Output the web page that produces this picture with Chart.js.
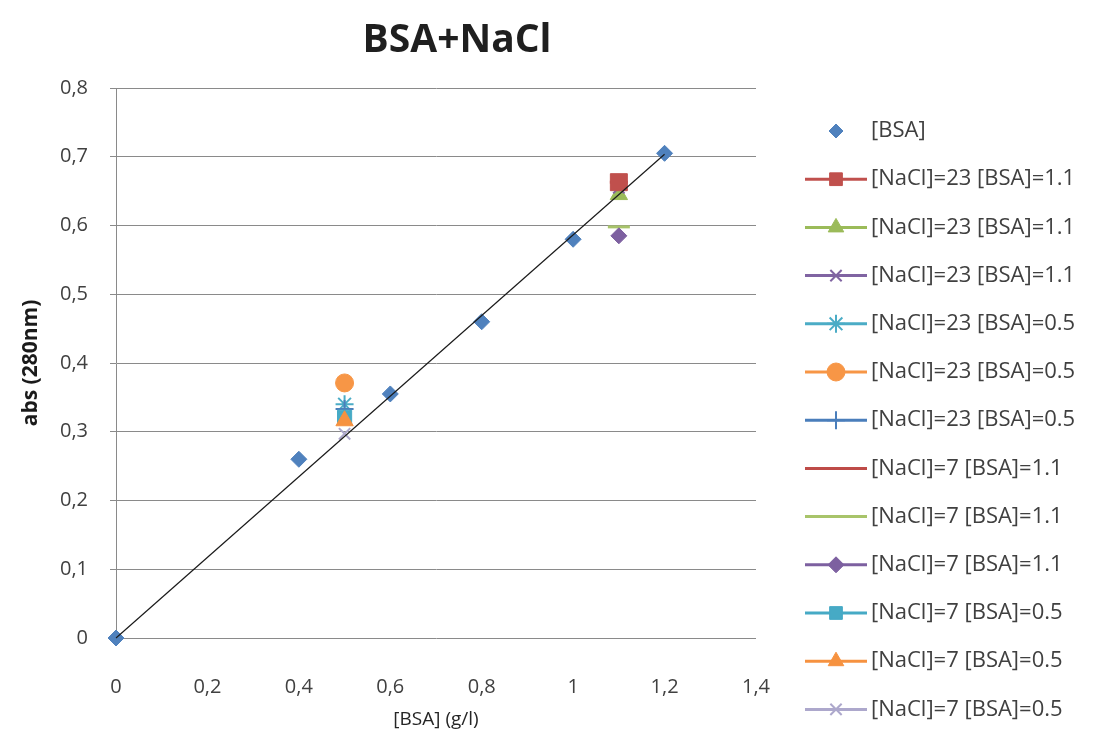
<!DOCTYPE html>
<html>
<head>
<meta charset="utf-8">
<script src="https://cdn.jsdelivr.net/npm/chart.js@4/dist/chart.umd.min.js"></script>
<style>
  html, body { margin: 0; padding: 0; background: #ffffff; }
  #wrap { width: 1101px; height: 751px; }
</style>
</head>
<body>
<div id="wrap"><canvas id="chart" width="1101" height="751"></canvas></div>
<script>
        const bsaX = [0, 0.4, 0.6, 0.8, 1, 1.2];
        const bsaY = [0, 0.26, 0.355, 0.46, 0.58, 0.705];

        const mixNames = [
            '[NaCl]=23 [BSA]=1.1', '[NaCl]=23 [BSA]=1.1', '[NaCl]=23 [BSA]=1.1',
            '[NaCl]=23 [BSA]=0.5', '[NaCl]=23 [BSA]=0.5', '[NaCl]=23 [BSA]=0.5',
            '[NaCl]=7 [BSA]=1.1', '[NaCl]=7 [BSA]=1.1', '[NaCl]=7 [BSA]=1.1',
            '[NaCl]=7 [BSA]=0.5', '[NaCl]=7 [BSA]=0.5', '[NaCl]=7 [BSA]=0.5'
        ];
        const mixX = [1.1, 1.1, 1.1, 0.5, 0.5, 0.5, 1.1, 1.1, 1.1, 0.5, 0.5, 0.5];
        const mixY = [0.663, 0.645, 0.655, 0.34, 0.371, 0.333, 0.663, 0.598, 0.585, 0.321, 0.316, 0.297];

        const xTicks = [0, 0.2, 0.4, 0.6, 0.8, 1, 1.2, 1.4];
        const yTicks = [0, 0.1, 0.2, 0.3, 0.4, 0.5, 0.6, 0.7, 0.8];

        // Darstellung
        const bsaColor = '#4F81BD';
        const mixColors = ['#C0504D', '#9BBB59', '#8064A2', '#4BACC6', '#F79646', '#4A7EBB',
                           '#BE4B48', '#A8C46A', '#7D60A0', '#46AAC5', '#F69240', '#ADA8CC'];
        const mixStyles = ['rect', 'triangle', 'crossRot', 'star', 'circle', 'cross',
                           'line', 'line', 'rectRot', 'rect', 'triangle', 'crossRot'];
        const mixRadius = [12, 10, 8, 9, 9, 9, 9, 11, 8, 10, 10, 8];

        const FONT = "'Open Sans', 'DejaVu Sans', sans-serif";

        function fmt(v) {
            const r = Math.round(v * 10) / 10;
            return String(r).replace('.', ',');
        }

        // lineare Trendlinie durch den Ursprung
        let sxy = 0, sxx = 0;
        bsaX.forEach((x, i) => { sxy += x * bsaY[i]; sxx += x * x; });
        const slope = sxy / sxx;
        const xMin = Math.min(...bsaX), xMax = Math.max(...bsaX);
        const trend = [{ x: xMin, y: slope * xMin }, { x: xMax, y: slope * xMax }];

        const datasets = [];
        datasets.push({
            label: 'trend',
            data: trend,
            showLine: true,
            borderColor: '#1a1a1a',
            borderWidth: 1.2,
            pointRadius: 0,
            clip: false,
            order: 0
        });
        datasets.push({
            label: '[BSA]',
            data: bsaX.map((x, i) => ({ x: x, y: bsaY[i] })),
            pointStyle: 'rectRot',
            pointRadius: 8,
            backgroundColor: bsaColor,
            borderColor: bsaColor,
            borderWidth: 1,
            clip: false,
            order: 100
        });
        mixNames.forEach((name, i) => {
            const thin = ['cross', 'crossRot', 'star', 'line'].includes(mixStyles[i]);
            datasets.push({
                label: name,
                data: [{ x: mixX[i], y: mixY[i] }],
                pointStyle: mixStyles[i],
                pointRadius: mixRadius[i],
                backgroundColor: mixColors[i],
                borderColor: mixColors[i],
                borderWidth: thin ? (mixStyles[i] === 'line' ? 3 : 2) : 1,
                clip: false,
                // Quadrat liegt im Original über dem Dreieck
                order: i === 0 ? 1 : 99 - i
            });
        });

        function drawMarker(ctx, style, r, color, bw, x, y) {
            ctx.save();
            ctx.fillStyle = color;
            ctx.strokeStyle = color;
            ctx.lineWidth = bw;
            Chart.helpers.drawPoint(ctx, { pointStyle: style, radius: r, borderWidth: bw, rotation: 0 }, x, y);
            ctx.restore();
        }

        // Titel und Legende im Excel-Stil
        const excelDecor = {
            id: 'excelDecor',
            afterDraw(chart) {
                const ctx = chart.ctx;
                const area = chart.chartArea;
                ctx.save();
                ctx.fillStyle = '#1f1f1f';
                ctx.font = 'bold 39px ' + FONT;
                ctx.textAlign = 'center';
                ctx.textBaseline = 'middle';
                ctx.fillText('BSA+NaCl', (area.left + area.right) / 2 + 21, 41);

                const rowTop = 131, rowGap = 48.2;
                const lineX0 = 805, lineX1 = 867, markX = 836, textX = 871;
                ctx.font = '22px ' + FONT;
                ctx.textAlign = 'left';
                ctx.fillStyle = '#404040';
                ctx.fillText('[BSA]', textX, rowTop);
                drawMarker(ctx, 'rectRot', 7, bsaColor, 1, markX, rowTop);

                mixNames.forEach((name, i) => {
                    const y = rowTop + rowGap * (i + 1);
                    ctx.strokeStyle = mixColors[i];
                    ctx.lineWidth = 3;
                    ctx.beginPath();
                    ctx.moveTo(lineX0, y);
                    ctx.lineTo(lineX1, y);
                    ctx.stroke();
                    const thin = ['cross', 'crossRot', 'star', 'line'].includes(mixStyles[i]);
                    drawMarker(ctx, mixStyles[i], Math.min(mixRadius[i], 9), mixColors[i], thin ? 2 : 1, markX, y);
                    ctx.fillStyle = '#404040';
                    ctx.fillText(name, textX, y);
                });
                ctx.restore();
            }
        };

        new Chart(document.getElementById('chart').getContext('2d'), {
            type: 'scatter',
            data: { datasets: datasets },
            options: {
                responsive: false,
                animation: false,
                layout: { padding: { top: 88, right: 345, bottom: 0, left: 0 } },
                plugins: {
                    legend: { display: false },
                    title: { display: false },
                    tooltip: { enabled: false }
                },
                scales: {
                    x: {
                        type: 'linear',
                        min: 0,
                        max: 1.4,
                        afterBuildTicks: axis => { axis.ticks = xTicks.map(v => ({ value: v })); },
                        afterFit: axis => { axis.height = 113; },
                        grid: { display: false, drawTicks: false },
                        border: { display: false },
                        ticks: {
                            padding: 37,
                            color: '#404040',
                            font: { family: FONT, size: 20 },
                            callback: v => fmt(v)
                        },
                        title: {
                            display: true,
                            text: '[BSA] (g/l)',
                            color: '#262626',
                            font: { family: FONT, size: 19 },
                            padding: { top: 0, bottom: 20 }
                        }
                    },
                    y: {
                        type: 'linear',
                        min: 0,
                        max: 0.8,
                        afterBuildTicks: axis => { axis.ticks = yTicks.map(v => ({ value: v })); },
                        afterFit: axis => { axis.width = 116; },
                        grid: { color: '#8a8a8a', lineWidth: 1, tickLength: 6 },
                        border: { display: true, color: '#8a8a8a', width: 1 },
                        ticks: {
                            padding: 22,
                            color: '#404040',
                            font: { family: FONT, size: 20 },
                            callback: v => fmt(v)
                        },
                        title: {
                            display: true,
                            text: 'abs (280nm)',
                            color: '#1a1a1a',
                            font: { family: FONT, size: 21, weight: 'bold' },
                            padding: { top: 18, bottom: 0 }
                        }
                    }
                }
            },
            plugins: [excelDecor]
        });
</script>
</body>
</html>
